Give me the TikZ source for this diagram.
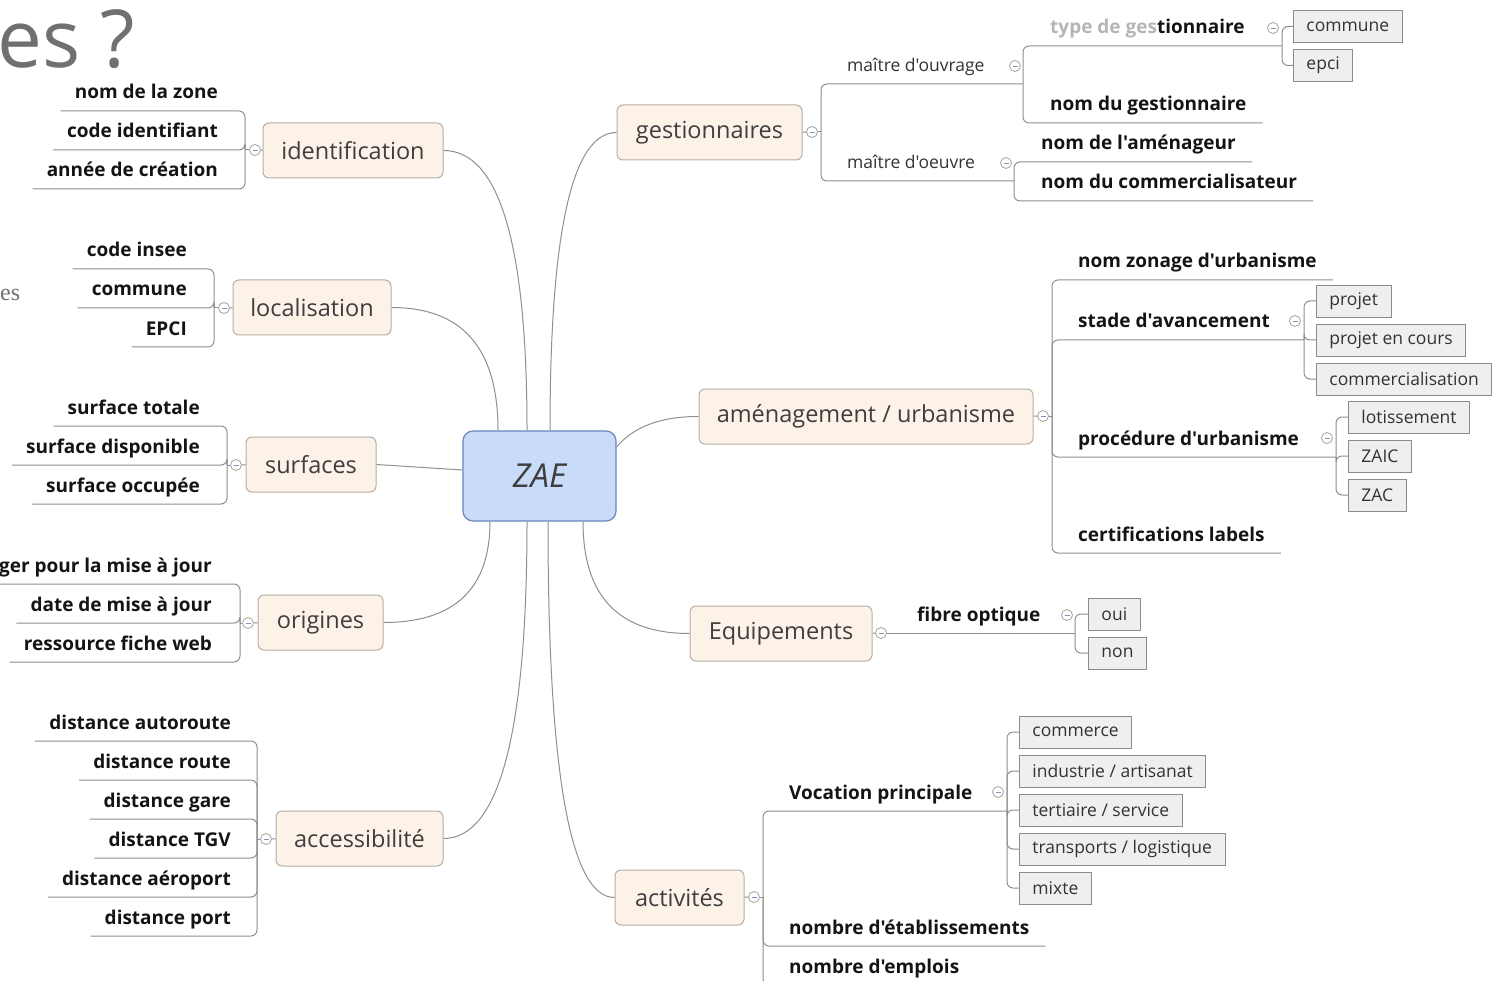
\documentclass[tikz,border=0pt]{standalone}
\usepackage{fontspec}
\setmainfont{Open Sans}[Ligatures=TeXOff]
\newfontfamily\oldserif{Liberation Serif}
\usetikzlibrary{calc}
\definecolor{linegray}{HTML}{8F8F8F}
\definecolor{topicfill}{HTML}{FDF2E8}
\definecolor{topicline}{HTML}{B5ADA6}
\definecolor{topictext}{HTML}{3E3E3E}
\definecolor{zaefill}{HTML}{C8DCFA}
\definecolor{zaeline}{HTML}{6786BD}
\definecolor{boxfill}{HTML}{EFEFEF}
\definecolor{boxline}{HTML}{8C8C8C}
\definecolor{leaftext}{HTML}{141414}
\definecolor{subtext}{HTML}{333333}
\definecolor{foldline}{HTML}{A3A3A3}
\definecolor{foldminus}{HTML}{7F93C4}
\definecolor{titlegray}{HTML}{707070}
\definecolor{fadegray}{HTML}{B5B5B5}
\tikzset{
  central/.style={draw=zaeline, fill=zaefill, rounded corners=10, line width=1.2, minimum width=153, minimum height=90, font=\fontsize{33}{36}\selectfont\itshape, text=topictext},
  topic/.style={draw=topicline, fill=topicfill, rounded corners=6, line width=1, minimum height=55, inner xsep=6, font=\fontsize{23.5}{26}\selectfont, text=topictext},
  leaf/.style={inner sep=0, font=\fontsize{19}{22}\selectfont\bfseries, text=leaftext},
  sub/.style={inner sep=0, font=\fontsize{17.5}{20}\selectfont, text=subtext},
  choice/.style={draw=boxline, fill=boxfill, line width=0.9, minimum height=32, inner xsep=13, anchor=west, font=\fontsize{17.5}{20}\selectfont, text=subtext},
  link/.style={draw=linegray, line width=1},
  curvelink/.style={to path={.. controls ($(\tikztostart)!0.667!(\tikztostart -| \tikztotarget)$) and ($(\tikztotarget)!0.667!(\tikztostart -| \tikztotarget)$) .. (\tikztotarget)}},
  branch/.style={draw=linegray, line width=1, rounded corners=6},
  fold/.style={circle, draw=foldline, fill=white, line width=0.8, minimum size=11, inner sep=0,
    path picture={\draw[foldminus, line width=0.9] ([xshift=-2.5]path picture bounding box.center) -- ([xshift=2.5]path picture bounding box.center);}}
}
\begin{document}
\begin{tikzpicture}[x=1pt,y=-1pt]
	\useasboundingbox (0,0) rectangle (1493,981);
	\clip (0,0) rectangle (1493,981);
	% restes du titre
	\node[anchor=base west, inner sep=0, text=titlegray, font=\fontsize{80}{84}\selectfont] (titre) at (-3,68) {es ?};
	\node[anchor=base west, inner sep=0, text=titlegray, font=\oldserif\fontsize{24}{26}\selectfont] (reste) at (0,301) {es};
	% centre et themes
	\node[central] (zae) at (539.5,476) {ZAE};
	\node[topic, minimum width=180] (ident) at (353,150.5) {identification};
	\node[topic, minimum width=158] (loc) at (312,307.5) {localisation};
	\node[topic, minimum width=130] (surf) at (311,464.5) {surfaces};
	\node[topic, minimum width=125] (orig) at (320.5,622.5) {origines};
	\node[topic, minimum width=167] (acces) at (359.5,838.5) {accessibilité};
	\node[topic, minimum width=185] (gest) at (709.5,132.5) {gestionnaires};
	\node[topic, minimum width=334] (amen) at (866,416.5) {aménagement / urbanisme};
	\node[topic, minimum width=182] (equip) at (781,633.5) {Equipements};
	\node[topic, minimum width=129] (activ) at (679.5,897.5) {activités};
	% points d'attache sur ZAE
	\coordinate (aIdent) at ([xshift=-12.5]zae.north);
	\coordinate (aLoc) at ([xshift=-41.5]zae.north);
	\coordinate (aSurf) at ([yshift=6]zae.west);
	\coordinate (aOrig) at ([xshift=-49.5]zae.south);
	\coordinate (aAcces) at ([xshift=-12.5]zae.south);
	\coordinate (aGest) at ([xshift=10.5]zae.north);
	\coordinate (aAmen) at ([yshift=29]zae.east);
	\coordinate (cAmen) at (642,416.5);
	\coordinate (aEquip) at ([xshift=43.5]zae.south);
	\coordinate (aActiv) at ([xshift=8.5]zae.south);
	\draw[link] (ident.east) to[curvelink] (aIdent);
	\draw[link] (loc.east) to[curvelink] (aLoc);
	\draw[link] (surf.east) -- (aSurf);
	\draw[link] (orig.east) to[curvelink] (aOrig);
	\draw[link] (acces.east) to[curvelink] (aAcces);
	\draw[link] (gest.west) to[curvelink] (aGest);
	\draw[link] (amen.west) .. controls ($(amen.west)!0.667!(cAmen)$) and ($(aAmen)!0.667!(cAmen)$) .. (aAmen);
	\draw[link] (equip.west) to[curvelink] (aEquip);
	\draw[link] (activ.west) to[curvelink] (aActiv);

	% identification
	\coordinate (jIdent) at (245,150);
	\node[fold] (fIdent) at (255,150) {};
	\node[leaf, anchor=base east] (zone) at (218,99) {nom de la zone};
	\node[leaf, anchor=base east] (codeid) at (218,138) {code identifiant};
	\node[leaf, anchor=base east] (annee) at (218,177) {année de création};
	\draw[branch] (ident) -- (fIdent);
	\draw[branch] (fIdent) -- (jIdent);
	\draw[branch] (jIdent) |- ([shift={(-14,12)}]zone.base west);
	\draw[branch] (jIdent) |- ([shift={(-14,12)}]codeid.base west);
	\draw[branch] (jIdent) |- ([shift={(-14,12)}]annee.base west);

	% localisation
	\coordinate (jLoc) at (214,308);
	\node[fold] (fLoc) at (224,308) {};
	\node[leaf, anchor=base east] (insee) at (187,257) {code insee};
	\node[leaf, anchor=base east] (commune) at (187,296) {commune};
	\node[leaf, anchor=base east] (epciL) at (187,335) {EPCI};
	\draw[branch] (loc) -- (fLoc);
	\draw[branch] (fLoc) -- (jLoc);
	\draw[branch] (jLoc) |- ([shift={(-14,12)}]insee.base west);
	\draw[branch] (jLoc) |- ([shift={(-14,12)}]commune.base west);
	\draw[branch] (jLoc) |- ([shift={(-14,12)}]epciL.base west);

	% surfaces
	\coordinate (jSurf) at (227,465);
	\node[fold] (fSurf) at (236,465) {};
	\node[leaf, anchor=base east] (totale) at (200,414) {surface totale};
	\node[leaf, anchor=base east] (dispo) at (200,453) {surface disponible};
	\node[leaf, anchor=base east] (occup) at (200,492) {surface occupée};
	\draw[branch] (surf) -- (fSurf);
	\draw[branch] (fSurf) -- (jSurf);
	\draw[branch] (jSurf) |- ([shift={(-14,12)}]totale.base west);
	\draw[branch] (jSurf) |- ([shift={(-14,12)}]dispo.base west);
	\draw[branch] (jSurf) |- ([shift={(-14,12)}]occup.base west);

	% origines
	\coordinate (jOrig) at (240,623);
	\node[fold] (fOrig) at (248,623) {};
	\node[leaf, anchor=base east] (interro) at (212,572) {ger pour la mise à jour};
	\node[leaf, anchor=base east] (datemaj) at (212,611) {date de mise à jour};
	\node[leaf, anchor=base east] (fiche) at (212,650) {ressource fiche web};
	\draw[branch] (orig) -- (fOrig);
	\draw[branch] (fOrig) -- (jOrig);
	\draw[branch] (jOrig) |- ([shift={(-14,12)}]interro.base west);
	\draw[branch] (jOrig) |- ([shift={(-14,12)}]datemaj.base west);
	\draw[branch] (jOrig) |- ([shift={(-14,12)}]fiche.base west);

	% accessibilite
	\coordinate (jAcces) at (257,839);
	\node[fold] (fAcces) at (266,839) {};
	\node[leaf, anchor=base east] (autoroute) at (231,729) {distance autoroute};
	\node[leaf, anchor=base east] (route) at (231,768) {distance route};
	\node[leaf, anchor=base east] (gare) at (231,807) {distance gare};
	\node[leaf, anchor=base east] (tgv) at (231,846) {distance TGV};
	\node[leaf, anchor=base east] (aeroport) at (231,885) {distance aéroport};
	\node[leaf, anchor=base east] (port) at (231,924) {distance port};
	\draw[branch] (acces) -- (fAcces);
	\draw[branch] (fAcces) -- (jAcces);
	\draw[branch] (jAcces) |- ([shift={(-14,12)}]autoroute.base west);
	\draw[branch] (jAcces) |- ([shift={(-14,12)}]route.base west);
	\draw[branch] (jAcces) |- ([shift={(-14,12)}]gare.base west);
	\draw[branch] (jAcces) |- ([shift={(-14,12)}]tgv.base west);
	\draw[branch] (jAcces) |- ([shift={(-14,12)}]aeroport.base west);
	\draw[branch] (jAcces) |- ([shift={(-14,12)}]port.base west);

	% gestionnaires
	\coordinate (jGest) at (821,132);
	\coordinate (jOuvr) at (1023,84);
	\coordinate (jType) at (1282,46);
	\coordinate (jOeuvr) at (1014,181);
	\node[fold] (fGest) at (812,132) {};
	\node[sub, anchor=base west] (ouvrage) at (847,72) {maître d'ouvrage};
	\node[sub, anchor=base west] (oeuvre) at (847,169) {maître d'oeuvre};
	\node[leaf, anchor=base west] (typegest) at (1050,34) {{\color{fadegray}type de ges}tionnaire};
	\node[leaf, anchor=base west] (nomgest) at (1050,111) {nom du gestionnaire};
	\node[leaf, anchor=base west] (amenageur) at (1041,150) {nom de l'aménageur};
	\node[leaf, anchor=base west] (commerc) at (1041,189) {nom du commercialisateur};
	\node[choice] (communeG) at (1293,26.5) {commune};
	\node[choice] (epciG) at (1293,65.5) {epci};
	\draw[branch] (gest) -- (fGest);
	\draw[branch] (fGest) -- (jGest);
	\draw[branch] (jGest) |- (jOuvr);
	\draw[branch] (jGest) |- (jOeuvr);
	\draw[branch] (jOuvr) |- (jType);
	\draw[branch] (jOuvr) |- ([shift={(16,12)}]nomgest.base east);
	\draw[branch] (jType) |- (communeG.west);
	\draw[branch] (jType) |- (epciG.west);
	\draw[branch] (jOeuvr) |- ([shift={(16,12)}]amenageur.base east);
	\draw[branch] (jOeuvr) |- ([shift={(16,12)}]commerc.base east);
	\node[fold] (fOuvr) at (1015,66) {};
	\node[fold] (fType) at (1273,28) {};
	\node[fold] (fOeuvr) at (1006,163) {};

	% amenagement / urbanisme
	\coordinate (jAmen) at (1052,416);
	\coordinate (jStade) at (1304,340);
	\coordinate (jProc) at (1336,457);
	\node[fold] (fAmen) at (1043,416) {};
	\node[leaf, anchor=base west] (zonage) at (1078,268) {nom zonage d'urbanisme};
	\node[leaf, anchor=base west] (stade) at (1078,328) {stade d'avancement};
	\node[leaf, anchor=base west] (proc) at (1078,445) {procédure d'urbanisme};
	\node[leaf, anchor=base west] (certif) at (1078,541) {certifications labels};
	\node[choice] (projet) at (1316,301) {projet};
	\node[choice] (encours) at (1316,340) {projet en cours};
	\node[choice] (commercial) at (1316,379) {commercialisation};
	\node[choice] (lotis) at (1348,417) {lotissement};
	\node[choice] (zaic) at (1348,456) {ZAIC};
	\node[choice] (zac) at (1348,495) {ZAC};
	\draw[branch] (amen) -- (fAmen);
	\draw[branch] (fAmen) -- (jAmen);
	\draw[branch] (jAmen) |- ([shift={(16,12)}]zonage.base east);
	\draw[branch] (jAmen) |- (jStade);
	\draw[branch] (jAmen) |- (jProc);
	\draw[branch] (jAmen) |- ([shift={(16,12)}]certif.base east);
	\draw[branch] (jStade) |- (projet.west);
	\draw[branch] (jStade) |- (encours.west);
	\draw[branch] (jStade) |- (commercial.west);
	\draw[branch] (jProc) |- (lotis.west);
	\draw[branch] (jProc) |- (zaic.west);
	\draw[branch] (jProc) |- (zac.west);
	\node[fold] (fStade) at (1295,321) {};
	\node[fold] (fProc) at (1327,438) {};

	% equipements
	\coordinate (jFibre) at (1075,633);
	\node[fold] (fEquip) at (881,633) {};
	\node[leaf, anchor=base west] (fibre) at (917,621) {fibre optique};
	\node[choice] (oui) at (1088,614) {oui};
	\node[choice] (non) at (1088,653) {non};
	\draw[branch] (equip) -- (fEquip);
	\draw[branch] (fEquip) -- (jFibre);
	\draw[branch] (jFibre) |- (oui.west);
	\draw[branch] (jFibre) |- (non.west);
	\node[fold] (fFibre) at (1067,615) {};

	% activites
	\coordinate (jActiv) at (763,897);
	\coordinate (jVoc) at (1007,811);
	\node[fold] (fActiv) at (754,897) {};
	\node[leaf, anchor=base west] (vocation) at (789,799) {Vocation principale};
	\node[leaf, anchor=base west] (etab) at (789,934) {nombre d'établissements};
	\node[leaf, anchor=base west] (emplois) at (789,973) {nombre d'emplois};
	\node[choice] (commerce) at (1019,732) {commerce};
	\node[choice] (industrie) at (1019,771) {industrie / artisanat};
	\node[choice] (tertiaire) at (1019,810) {tertiaire / service};
	\node[choice] (transports) at (1019,849) {transports / logistique};
	\node[choice] (mixte) at (1019,888) {mixte};
	\draw[branch] (activ) -- (fActiv);
	\draw[branch] (fActiv) -- (jActiv);
	\draw[branch] (jActiv) |- (jVoc);
	\draw[branch] (jActiv) |- ([shift={(16,12)}]etab.base east);
	\draw[branch] (jActiv) |- ([shift={(16,12)}]emplois.base east);
	\draw[branch] (jVoc) |- (commerce.west);
	\draw[branch] (jVoc) |- (industrie.west);
	\draw[branch] (jVoc) |- (tertiaire.west);
	\draw[branch] (jVoc) |- (transports.west);
	\draw[branch] (jVoc) |- (mixte.west);
	\node[fold] (fVoc) at (998,792) {};
\end{tikzpicture}
\end{document}
